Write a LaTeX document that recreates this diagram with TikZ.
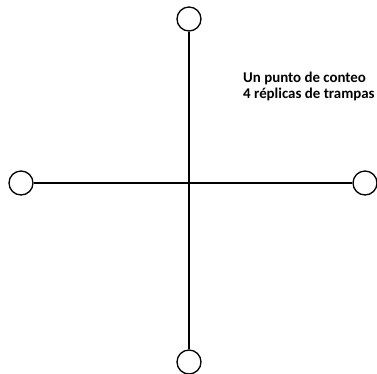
\documentclass[tikz,border=0pt]{standalone}
\usepackage{fontspec}
\setmainfont{Carlito}
\usepackage{tikz}
\usetikzlibrary{positioning}

\begin{document}
\begin{tikzpicture}[x=1pt,y=-1pt,
		trap/.style={draw,circle,line width=1.3pt,minimum size=24pt,inner sep=0pt}]
		\useasboundingbox (0,0) rectangle (377,373);
		\node[trap] (ctop) at (189,19) {};
		\node[trap] (cbottom) at (189,362) {};
		\node[trap] (cleft) at (21,183) {};
		\node[trap] (cright) at (365,183) {};
		\draw [line width=1.8pt] (ctop)--(cbottom);
		\draw [line width=1.8pt] (cleft)--(cright);
		\node[anchor=base west,align=left,font=\bfseries\fontsize{14.9}{16}\selectfont,inner sep=0pt] (label) at (243,98) {Un punto de conteo\\4 réplicas de trampas};
    \end{tikzpicture}
\end{document}
